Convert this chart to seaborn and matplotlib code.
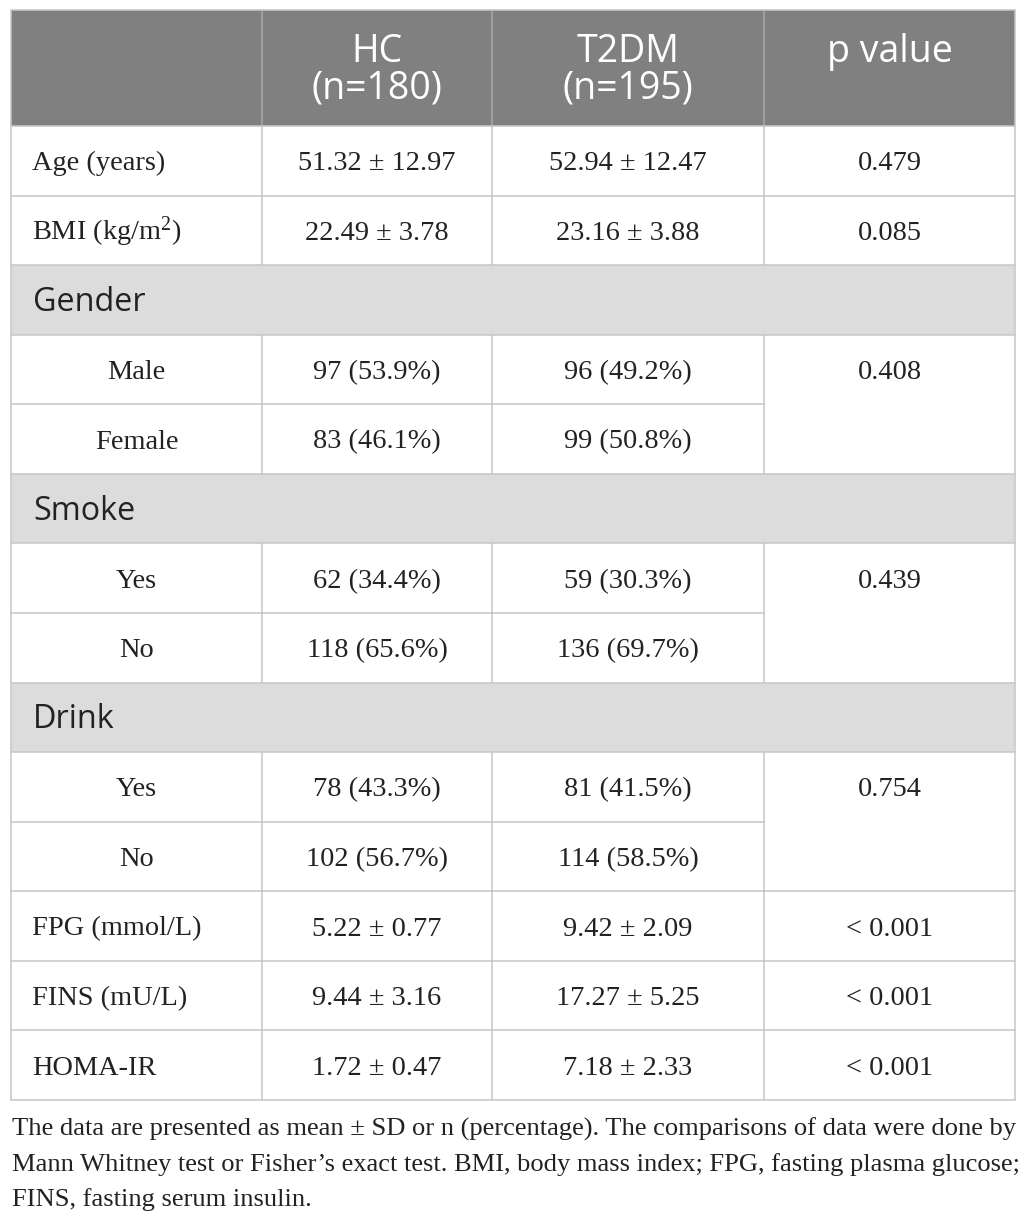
import matplotlib
matplotlib.use('Agg')
import matplotlib.pyplot as plt
from matplotlib.patches import Rectangle
import pandas as pd
import seaborn as sns

# ---- table content ----
header_labels = ["", "HC\n(n=180)", "T2DM\n(n=195)", "p value"]
row_labels = ["Age (years)", "BMI (kg/m$^2$)", "Gender", "Male", "Female",
              "Smoke", "Yes", "No", "Drink", "Yes", "No",
              "FPG (mmol/L)", "FINS (mU/L)", "HOMA-IR"]
row_kinds = ["var", "var", "section", "sub", "sub", "section", "sub", "sub",
             "section", "sub", "sub", "var", "var", "var"]
hc_values = ["51.32 ± 12.97", "22.49 ± 3.78", "", "97 (53.9%)", "83 (46.1%)",
             "", "62 (34.4%)", "118 (65.6%)", "", "78 (43.3%)", "102 (56.7%)",
             "5.22 ± 0.77", "9.44 ± 3.16", "1.72 ± 0.47"]
t2dm_values = ["52.94 ± 12.47", "23.16 ± 3.88", "", "96 (49.2%)", "99 (50.8%)",
               "", "59 (30.3%)", "136 (69.7%)", "", "81 (41.5%)", "114 (58.5%)",
               "9.42 ± 2.09", "17.27 ± 5.25", "7.18 ± 2.33"]
# None marks the lower half of a merged p value cell
p_values = ["0.479", "0.085", "", "0.408", None, "", "0.439", None, "",
            "0.754", None, "< 0.001", "< 0.001", "< 0.001"]
footnote_lines = [
    "The data are presented as mean ± SD or n (percentage). The comparisons of data were done by",
    "Mann Whitney test or Fisher\u2019s exact test. BMI, body mass index; FPG, fasting plasma glucose;",
    "FINS, fasting serum insulin.",
]

df = pd.DataFrame({"label": row_labels, "kind": row_kinds, "hc": hc_values,
                   "t2dm": t2dm_values, "p": p_values})

# ---- layout (pixels) ----
W, H = 1026, 1225
col_edges = [11, 262, 492, 764, 1015]
top, head_h = 10, 116
row_h = (1100 - (top + head_h)) / len(df)
header_bg = "#808080"
section_bg = "#dcdcdc"
line_col = "#c6c6c6"
text_col = "#222222"
lw = 1.1
body_fs = 20.4

sns.set_theme(style="white")
plt.rcParams['font.family'] = ['Liberation Serif', 'DejaVu Serif']
plt.rcParams['mathtext.fontset'] = 'custom'
plt.rcParams['mathtext.rm'] = 'Liberation Serif'
plt.rcParams['mathtext.it'] = 'Liberation Serif:italic'

fig = plt.figure(figsize=(W / 100, H / 100), dpi=100)
ax = fig.add_axes([0, 0, 1, 1])
ax.set_xlim(0, W)
ax.set_ylim(H, 0)
ax.axis('off')

sans = ['Open Sans', 'DejaVu Sans']
serif = ['Liberation Serif', 'DejaVu Serif']

# header
ax.add_patch(Rectangle((col_edges[0], top), col_edges[-1] - col_edges[0], head_h,
                       facecolor=header_bg, edgecolor='none'))
for i, lab in enumerate(header_labels):
    if not lab:
        continue
    cx = (col_edges[i] + col_edges[i + 1]) / 2
    for k, part in enumerate(lab.split("\n")):
        ax.text(cx, top + 52 + 36 * k, part, ha='center', va='baseline',
                fontsize=27, color='white', family=sans)
for x in col_edges[1:-1]:
    ax.plot([x, x], [top, top + head_h], color="#a8a8a8", lw=lw)

# body rows
y0 = top + head_h
for r, row in df.iterrows():
    yt = y0 + r * row_h
    yc = yt + row_h / 2
    if row.kind == "section":
        ax.add_patch(Rectangle((col_edges[0], yt), col_edges[-1] - col_edges[0], row_h,
                               facecolor=section_bg, edgecolor='none'))
        ax.text(col_edges[0] + 22, yc + 11, row.label, ha='left', va='baseline',
                fontsize=23.3, color=text_col, family=sans)
    else:
        if row.kind == "sub":
            ax.text((col_edges[0] + col_edges[1]) / 2, yc + 9.5, row.label,
                    ha='center', va='baseline', fontsize=body_fs, color=text_col, family=serif)
        else:
            ax.text(col_edges[0] + 21, yc + 9.5, row.label, ha='left', va='baseline',
                    fontsize=body_fs, color=text_col, family=serif)
        for c, val in zip([1, 2, 3], [row.hc, row.t2dm, row.p]):
            if val:
                ax.text((col_edges[c] + col_edges[c + 1]) / 2, yc + 9.5, val,
                        ha='center', va='baseline', fontsize=body_fs, color=text_col,
                        family=serif)
        for x in col_edges[1:-1]:
            ax.plot([x, x], [yt, yt + row_h], color=line_col, lw=lw)
    # horizontal rule at the top of this row
    merged = row.p is None
    x_end = col_edges[3] if merged else col_edges[-1]
    ax.plot([col_edges[0], x_end], [yt, yt], color=line_col, lw=lw)

# outer border
y_bot = y0 + len(df) * row_h
ax.plot([col_edges[0], col_edges[-1]], [y_bot, y_bot], color=line_col, lw=lw)
ax.plot([col_edges[0], col_edges[-1]], [top, top], color=line_col, lw=lw)
ax.plot([col_edges[0], col_edges[0]], [top, y_bot], color=line_col, lw=lw)
ax.plot([col_edges[-1], col_edges[-1]], [top, y_bot], color=line_col, lw=lw)

# footnote, sized so the first line fills the table width
fn_texts = [ax.text(12, 1136 + 35 * k, line, ha='left', va='baseline', fontsize=17,
                    color=text_col, family=serif)
            for k, line in enumerate(footnote_lines)]
fig.canvas.draw()
w = fn_texts[0].get_window_extent().width
scale = (col_edges[-1] - 12) / w
for t in fn_texts:
    t.set_fontsize(17 * scale)

fig.savefig("out.png", dpi=100)
